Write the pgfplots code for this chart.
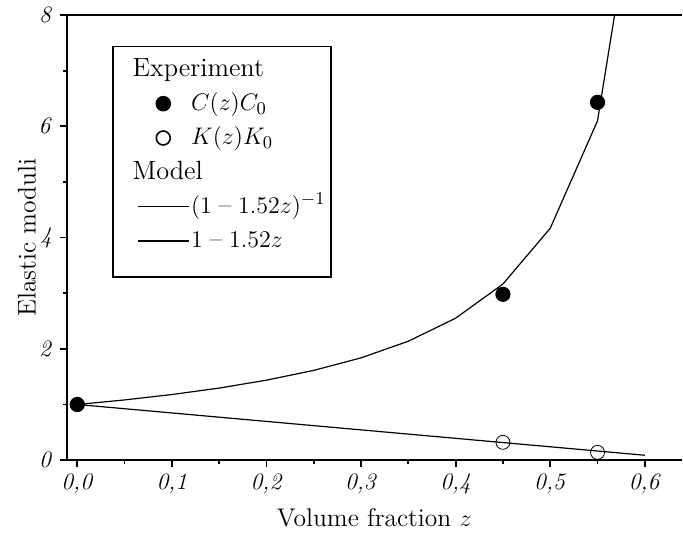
\documentclass[border=0pt]{standalone}
\usepackage{pgfplots}
\pgfplotsset{compat=1.18}
\pgfplotsset{
  legmark/.style={legend image code/.code={\path (-10pt,0pt) (25.5pt,0pt);
      \draw[mark repeat=2,mark phase=2,##1] plot coordinates {(0pt,3.5pt)(12.75pt,3.5pt)(25.5pt,3.5pt)};}},
  legline/.style={legend image code/.code={\path (-10pt,0pt);\draw[##1] (0pt,3.5pt)--(25.5pt,3.5pt);}},
  leghead/.style={legend image code/.code={\path (-10pt,0pt) (25.5pt,0pt);
      \node[overlay,anchor=base west,inner sep=0pt] at (-3pt,0pt) {#1};}},
}
\begin{document}
\begin{tikzpicture}[font=\fontsize{12.5}{14}\selectfont]
\begin{axis}[scale only axis,width=308pt,height=223pt,
  xmin=-0.011,xmax=0.639,ymin=0,ymax=8,
  axis x line=box,axis y line=left,axis line style={-,line width=1.3pt},
  xtick pos=left,ytick pos=left,xtick align=outside,ytick align=outside,
  major tick length=3.5pt,minor tick length=2pt,tick style={line width=0.9pt,black},
  xtick={0,0.1,0.2,0.3,0.4,0.5,0.6},
  xticklabels={\textit{0,0},\textit{0,1},\textit{0,2},\textit{0,3},\textit{0,4},\textit{0,5},\textit{0,6}},
  minor xtick={0.05,0.15,0.25,0.35,0.45,0.55},
  ytick={0,2,4,6,8},yticklabels={\textit{0},\textit{2},\textit{4},\textit{6},\textit{8}},
  minor ytick={1,3,5,7},
  tick label style={font=\fontsize{11.8}{13}\selectfont},
  xticklabel style={yshift=0.3pt},yticklabel style={xshift=-0.5pt},
  xlabel={Volume fraction $z$},ylabel={Elastic moduli},
  label style={font=\fontsize{12.8}{14}\selectfont},
  xlabel shift=0.5pt,ylabel shift=-5.5pt,
  after end axis/.code={\path (rel axis cs:0,1) ++(-33.5pt,7.5pt);\path (rel axis cs:0,0) ++(0,-34pt);},
  legend style={at={(axis cs:0.037,7.45)},anchor=north west,draw=black,line width=0.8pt,
    inner xsep=2pt,inner ysep=6pt,row sep=5.2pt,font=\fontsize{13.2}{15}\selectfont,
    cells={anchor=base west},
    nodes={text height=9pt,text depth=3pt,inner ysep=0pt,inner xsep=0.8pt}},
]
% legend
\addlegendimage{leghead=Experiment}
\addlegendentry{}
\addlegendimage{only marks,mark=*,mark size=3.5pt,black,legmark}
\addlegendentry{$C(z)C_0$}
\addlegendimage{only marks,mark=o,mark size=3.5pt,black,mark options={fill=white},legmark}
\addlegendentry{$K(z)K_0$}
\addlegendimage{leghead=Model}
\addlegendentry{}
\addlegendimage{black,line width=0.6pt,legline}
\addlegendentry{$(1\;\mbox{--}\;1.52z)^{-1}$}
\addlegendimage{black,line width=0.6pt,legline}
\addlegendentry[text depth=8.5pt]{$1\;\mbox{--}\;1.52z$}
% model
\addplot[black,line width=0.6pt,forget plot] coordinates {
(0,1)(0.05,1.082)(0.1,1.179)(0.15,1.295)(0.2,1.437)(0.25,1.613)(0.3,1.838)
(0.35,2.137)(0.4,2.551)(0.45,3.165)(0.5,4.167)(0.55,6.098)(0.6,11.364)};
\addplot[black,line width=0.6pt,forget plot] coordinates {(0,1)(0.6,0.088)};
% experiment
\addplot[only marks,mark=o,mark size=3.5pt,black,mark options={fill=white},forget plot] coordinates {(0.45,0.32)(0.55,0.14)};
\addplot[only marks,mark=*,mark size=3.6pt,black,forget plot] coordinates {(0,1)(0.45,2.98)(0.55,6.43)};
\end{axis}
\end{tikzpicture}
\end{document}
